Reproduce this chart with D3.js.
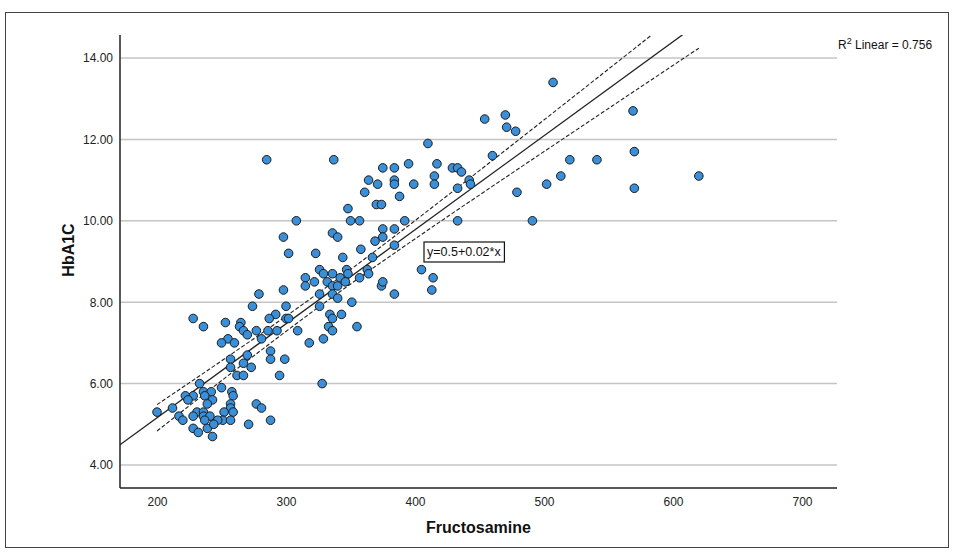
<!DOCTYPE html>
<html>
<head>
<meta charset="utf-8">
<script src="https://cdn.jsdelivr.net/npm/d3@7"></script>
<style>
  body { margin: 0; background: #fff; }
  svg { display: block; font-family: "Liberation Sans", Arial, sans-serif; }
</style>
</head>
<body>
<svg id="chart" width="955" height="555"></svg>
<script>
// Fructosamine (x) vs HbA1C (y)
const fructosamine = [
  507, 454, 470, 471, 478, 410, 460, 479, 491, 433,
  569, 570, 520, 541, 513, 502, 570, 620, 375, 384,
  395, 417, 429, 433, 436, 364, 384, 384, 371, 399,
  415, 415, 442, 443, 433, 361, 388, 370, 374, 348,
  308, 350, 357, 392, 375, 384, 375, 336, 340, 298,
  369, 358, 384, 302, 323, 344, 367, 405, 414, 413,
  337, 285, 326, 329, 336, 347, 348, 363, 364, 357,
  315, 315, 322, 332, 336, 340, 342, 346, 374, 375,
  298, 326, 336, 340, 384, 351, 326, 334, 336, 343,
  333, 336, 355, 329, 279, 300, 274, 292, 287, 300,
  302, 228, 236, 253, 265, 264, 267, 270, 277, 286,
  293, 281, 255, 250, 260, 309, 318, 257, 270, 288,
  288, 299, 267, 273, 257, 262, 267, 295, 233, 250,
  258, 259, 228, 236, 242, 237, 243, 239, 257, 277,
  281, 257, 252, 259, 231, 236, 228, 236, 241, 237,
  251, 257, 247, 228, 232, 239, 244, 271, 288, 243,
  328, 200, 212, 217, 220, 222, 224
];
const hba1c = [
  13.4, 12.5, 12.6, 12.3, 12.2, 11.9, 11.6, 10.7, 10.0, 10.0,
  12.7, 11.7, 11.5, 11.5, 11.1, 10.9, 10.8, 11.1, 11.3, 11.3,
  11.4, 11.4, 11.3, 11.3, 11.2, 11.0, 11.0, 10.9, 10.9, 10.9,
  11.1, 10.9, 11.0, 10.9, 10.8, 10.7, 10.6, 10.4, 10.4, 10.3,
  10.0, 10.0, 10.0, 10.0, 9.8, 9.8, 9.6, 9.7, 9.6, 9.6,
  9.5, 9.3, 9.4, 9.2, 9.2, 9.1, 9.1, 8.8, 8.6, 8.3,
  11.5, 11.5, 8.8, 8.7, 8.7, 8.8, 8.7, 8.8, 8.7, 8.6,
  8.6, 8.4, 8.5, 8.5, 8.4, 8.4, 8.6, 8.5, 8.4, 8.5,
  8.3, 8.2, 8.2, 8.1, 8.2, 8.0, 7.9, 7.7, 7.6, 7.7,
  7.4, 7.3, 7.4, 7.1, 8.2, 7.9, 7.9, 7.7, 7.6, 7.6,
  7.6, 7.6, 7.4, 7.5, 7.5, 7.4, 7.3, 7.2, 7.3, 7.3,
  7.3, 7.1, 7.1, 7.0, 7.0, 7.3, 7.0, 6.6, 6.7, 6.8,
  6.6, 6.6, 6.5, 6.4, 6.4, 6.2, 6.2, 6.2, 6.0, 5.9,
  5.8, 5.7, 5.7, 5.8, 5.8, 5.7, 5.6, 5.5, 5.5, 5.5,
  5.4, 5.4, 5.3, 5.3, 5.3, 5.3, 5.2, 5.2, 5.2, 5.1,
  5.1, 5.1, 5.1, 4.9, 4.8, 4.9, 5.0, 5.0, 5.1, 4.7,
  6.0, 5.3, 5.4, 5.2, 5.1, 5.7, 5.6
];
const xTicks = [200, 300, 400, 500, 600, 700];
const yTicks = [4, 6, 8, 10, 12, 14];
// fit line as printed on the chart
const fitIntercept = 0.54;
const fitSlope = 0.0231;
const rSquared = 0.756;

const svg = d3.select('#chart');
const plotL = 120, plotR = 837, plotT = 35, plotB = 488;

const x = d3.scaleLinear().domain([171.3, 727.1]).range([plotL, plotR]);
const y = d3.scaleLinear().domain([3.435, 14.565]).range([plotB, plotT]);

// outer frame
svg.append('rect')
  .attr('x', 5.5).attr('y', 12.5)
  .attr('width', 943).attr('height', 535)
  .attr('fill', '#fff')
  .attr('stroke', '#444')
  .attr('stroke-width', 1);

// horizontal grid
svg.append('g')
  .selectAll('line')
  .data(yTicks)
  .enter().append('line')
  .attr('x1', plotL).attr('x2', plotR)
  .attr('y1', d => y(d)).attr('y2', d => y(d))
  .attr('stroke', '#c4c4c4')
  .attr('stroke-width', 1.5);

const yAxis = d3.axisLeft(y).tickValues(yTicks).tickFormat(d3.format('.2f')).tickSize(0).tickPadding(7);
const xAxis = d3.axisBottom(x).tickValues(xTicks).tickFormat(d3.format('d')).tickSize(0).tickPadding(9);

const gy = svg.append('g').attr('transform', `translate(${plotL},0)`).call(yAxis);
const gx = svg.append('g').attr('transform', `translate(0,${plotB})`).call(xAxis);
[gx, gy].forEach(g => {
  g.select('.domain').remove();
  g.selectAll('text')
    .attr('font-size', 12)
    .attr('fill', '#222')
    .attr('font-family', '"Liberation Sans", Arial, sans-serif');
});

svg.append('defs').append('clipPath').attr('id', 'plotClip')
  .append('rect')
  .attr('x', plotL).attr('y', plotT)
  .attr('width', plotR - plotL).attr('height', plotB - plotT);

// confidence band for the mean, from the residuals around the fit
const n = fructosamine.length;
const xBar = d3.mean(fructosamine);
const sxx = d3.sum(fructosamine, v => (v - xBar) * (v - xBar));
const sse = d3.sum(fructosamine, (v, i) => Math.pow(hba1c[i] - (fitIntercept + fitSlope * v), 2));
const sErr = Math.sqrt(sse / (n - 2));
const tCrit = 1.97;
const xMin = d3.min(fructosamine), xMax = d3.max(fructosamine);
const bandX = d3.range(0, 101).map(i => xMin + (xMax - xMin) * i / 100);
const half = v => tCrit * sErr * Math.sqrt(1 / n + (v - xBar) * (v - xBar) / sxx);

const lines = svg.append('g').attr('clip-path', 'url(#plotClip)');
const lineGen = d3.line().x(d => x(d[0])).y(d => y(d[1]));

lines.append('path')
  .attr('d', lineGen(x.domain().map(v => [v, fitIntercept + fitSlope * v])))
  .attr('fill', 'none')
  .attr('stroke', '#222')
  .attr('stroke-width', 1.3);

[1, -1].forEach(sign => {
  lines.append('path')
    .attr('d', lineGen(bandX.map(v => [v, fitIntercept + fitSlope * v + sign * half(v)])))
    .attr('fill', 'none')
    .attr('stroke', '#222')
    .attr('stroke-width', 1.1)
    .attr('stroke-dasharray', '4,2');
});

// points
svg.append('g')
  .selectAll('circle')
  .data(fructosamine.map((v, i) => [v, hba1c[i]]))
  .enter().append('circle')
  .attr('cx', d => x(d[0]))
  .attr('cy', d => y(d[1]))
  .attr('r', 4.3)
  .attr('fill', '#3a8fd9')
  .attr('stroke', '#1b1b1b')
  .attr('stroke-width', 1);

// axis lines
svg.append('line')
  .attr('x1', plotL).attr('x2', plotL).attr('y1', plotT).attr('y2', plotB)
  .attr('stroke', '#222').attr('stroke-width', 1.5);
svg.append('line')
  .attr('x1', plotL).attr('x2', plotR).attr('y1', plotB).attr('y2', plotB)
  .attr('stroke', '#222').attr('stroke-width', 1.5);

// equation label
const eq = svg.append('g');
const eqText = eq.append('text')
  .attr('x', 427).attr('y', 256)
  .attr('font-size', 12.5)
  .attr('fill', '#111')
  .text('y=0.5+0.02*x');
const bb = eqText.node().getBBox();
eq.insert('rect', 'text')
  .attr('x', bb.x - 3).attr('y', bb.y - 3)
  .attr('width', bb.width + 6).attr('height', bb.height + 6)
  .attr('fill', '#fff')
  .attr('stroke', '#111')
  .attr('stroke-width', 1.2);

// R squared note
const r2 = svg.append('text')
  .attr('x', 838).attr('y', 49)
  .attr('font-size', 12)
  .attr('fill', '#111');
r2.append('tspan').text('R');
r2.append('tspan').attr('font-size', 9).attr('dy', -5).text('2');
r2.append('tspan').attr('dy', 5).text(' Linear = ' + rSquared);

// axis titles
svg.append('text')
  .attr('x', (plotL + plotR) / 2).attr('y', 533)
  .attr('text-anchor', 'middle')
  .attr('font-size', 16)
  .attr('font-weight', 'bold')
  .attr('fill', '#111')
  .text('Fructosamine');

svg.append('text')
  .attr('transform', 'translate(74,250) rotate(-90)')
  .attr('text-anchor', 'middle')
  .attr('font-size', 16)
  .attr('font-weight', 'bold')
  .attr('fill', '#111')
  .text('HbA1C');
</script>
</body>
</html>
